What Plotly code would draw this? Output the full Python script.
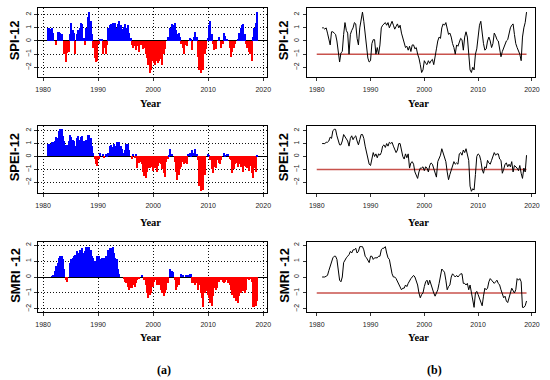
import plotly.graph_objects as go

# ---------------- data (quarterly values) ----------------
start_year = 1981.0
step = 0.25

spi12 = [
    1.0, 1.0, 0.9, 1.0,   0.6, 0.0, -0.3, 0.7,   0.7, 0.6, 0.5, 0.0,   -1.0, -1.6, -0.9, -0.8,
    0.5, 1.4, 0.8, 0.6,   -1.0, 0.5, 0.8, 1.0,   1.4, 1.3, 0.2, -0.3,   1.0, 1.8, 2.2, 1.5,
    0.5, -0.5, -1.3, -1.6,   -1.5, -0.2, 0.1, 0.1,   -1.0, -0.5, -1.0, -0.3,   1.0, 1.2, 1.3, 1.4,
    1.2, 1.4, 1.0, 1.3,   1.5, 1.2, 0.9, 1.1,   1.3, 1.0, 1.2, 0.6,   0.2, -0.3, -0.5, -0.4,
    -0.7, -0.4, -0.8, -0.3,   -0.3, -0.6, -0.5, -1.0,   -1.3, -1.8, -2.4, -2.2,   -1.5, -1.7, -1.8, -1.5,
    -1.7, -1.5, -1.4, -1.8,   -1.0, -0.6, 0.0, 0.3,   0.2, 1.0, 1.3, 1.2,   1.4, 0.8, 0.5, 0.6,
    0.3, -0.2, -0.5, -1.0,   -0.3, -0.4, 0.0, 0.2,   0.1, -0.7, 0.3, 0.7,   0.3, -1.2, -2.2, -2.4,
    -2.0, -2.2, -1.0, -0.6,   0.2, 1.2, 1.5, 0.5,   -0.2, -0.7, -0.6, 0.0,   0.3, 0.0, -0.5, -0.2,
    0.6, 0.4, 0.1, 0.0,   -0.5, -1.2, -0.8, -0.5,   -0.2, 0.0, 0.1, 0.6,   1.0, 1.2, 1.3, 0.5,
    -0.2, -0.5, -0.8, -1.0,   -1.5, 0.3, 1.0, 1.4,   2.2,
]

spei12 = [
    1.0, 1.0, 1.0, 1.1,   1.1, 1.2, 1.5, 1.4,   2.0, 2.1, 2.1, 1.6,   1.2, 0.9, 0.9, 1.2,
    1.7, 1.5, 1.3, 1.2,   0.8, 1.4, 1.6, 1.3,   1.5, 1.6, 1.2, 0.9,   1.3, 1.7, 1.7, 1.4,
    0.8, 0.3, -0.2, -0.6,   -0.7, -0.2, 0.3, 0.0,   0.2, -0.1, 0.2, 0.1,   0.3, 0.8, 0.9, 0.7,
    1.0, 0.8, 1.1, 1.0,   1.1, 0.8, 0.6, 0.3,   0.5, 1.0, 1.0, 0.5,   0.0, -0.2, 0.2, -0.1,
    0.2, -0.9, -0.5, -0.4,   -0.6, -1.2, -1.5, -1.7,   -1.2, -0.9, -0.9, -0.8,   -1.1, -0.8, -0.9, -1.2,
    -0.7, -0.5, -0.6, -1.0,   -1.3, -1.6, -0.4, -0.2,   0.1, 0.6, 0.2, 0.0,   -0.4, -1.2, -1.8, -1.4,
    -1.0, -0.8, -0.4, -0.6,   -0.5, -0.6, 0.2, 0.3,   0.1, 0.5, 0.3, 0.6,   0.2, -0.3, -2.3, -2.7,
    -2.5, -2.6, -1.4, 0.0,   0.2, 0.1, -0.3, -1.0,   -1.3, -0.8, -0.9, -0.3,   -0.5, -0.6, -0.3, 0.0,
    0.3, 0.1, 0.2, 0.2,   -0.2, -0.3, -1.3, -1.0,   -0.6, -0.5, -0.8, -0.6,   -0.8, -0.4, -1.2, -0.7,
    -0.8, -0.9, -1.1, -0.7,   -1.3, -1.7, -0.9, -1.2,   0.1,
]

smri12 = [
    0.0, 0.0, 0.0, 0.05,   0.1, 0.4, 0.7, 0.9,   1.2, 1.3, 1.3, 1.1,   0.5, -0.2, -0.3, 0.0,
    0.9, 1.1, 1.2, 1.3,   1.4, 1.6, 1.5, 1.7,   1.7, 1.8, 1.5, 1.6,   1.9, 1.9, 1.9, 1.7,
    1.3, 1.2, 1.0, 0.9,   1.3, 1.3, 1.1, 1.2,   1.2, 1.2, 1.3, 1.3,   1.7, 1.8, 1.8, 1.9,
    1.5, 1.2, 1.1, 0.5,   0.2, 0.0, 0.0, -0.1,   -0.3, -0.4, -0.6, -0.8,   -0.7, -0.7, -0.5, -0.6,
    -0.4, -0.2, -0.1, 0.0,   0.1, 0.0, -0.2, -0.5,   -1.0, -1.3, -1.1, -1.0,   -0.6, -0.3, -0.2, -0.5,
    -0.2, -0.5, -0.8, -1.0,   -1.2, -1.0, -0.8, -0.4,   0.0, 0.5, 0.4, 0.3,   -0.2, -0.8, -0.6, -0.5,
    0.0, 0.2, 0.1, 0.0,   0.1, 0.0, 0.1, 0.2,   0.2, -0.4, -0.4, -0.5,   -0.4, -0.8, -0.5, -1.0,
    -1.3, -1.9, -1.0, -0.9,   -1.1, -1.3, -1.6, -1.8,   -1.2, -0.7, -0.8, -0.7,   -0.3, -0.1, -0.2, -0.3,
    -0.4, -0.3, -0.2, -0.4,   -0.5, -0.8, -1.1, -1.3,   -1.2, -1.5, -1.6, -1.2,   -1.0, -0.7, -0.9, -1.0,
    -0.8, -0.1, -0.2, -0.1,   -0.3, -1.9, -1.9, -1.8,   -1.5,
]

index_names = ["SPI-12", "SPEI-12", "SMRI -12"]
year_ticks = [1980, 1990, 2000, 2010, 2020]
index_ticks = [-2, -1, 0, 1, 2]
threshold_value = -1
threshold_years = [1980, 2019]
panel_labels = ["(a)", "(b)"]

# ---------------- layout helpers ----------------
W, H = 550, 380
def fx(p):
    return p / W
def fy(p):
    return 1 - p / H

row_px = [(8, 77), (126, 193), (242, 312)]
left_px = (36, 268)
right_px = (308, 540)
y_ranges = [[-2.74, 2.51], [-2.83, 2.36], [-2.19, 2.19]]
left_xrange = [1979.16, 2020.7]
right_xrange = [1978.1, 2020.6]

POS = "#0000ff"
NEG = "#ff0000"
LINE_RED = "#c8524c"
TICKFONT = dict(family="Liberation Sans, Arial, sans-serif", size=7, color="#222222")

series = [spi12, spei12, smri12]

fig = go.Figure()
layout = {}
annotations = []

for r, vals in enumerate(series):
    years = [start_year + step * i for i in range(len(vals))]
    colors = [POS if v >= 0 else NEG for v in vals]
    li = 2 * r + 1
    ri = 2 * r + 2
    lx, ly = f"x{li}", f"y{li}"
    rx, ry = f"x{ri}", f"y{ri}"

    fig.add_trace(go.Bar(x=years, y=vals, marker=dict(color=colors, line=dict(width=0)),
                         width=step, xaxis=lx, yaxis=ly, showlegend=False, hoverinfo="x+y"))
    fig.add_trace(go.Scatter(x=threshold_years, y=[threshold_value] * 2, mode="lines",
                             line=dict(color=LINE_RED, width=1.5), xaxis=rx, yaxis=ry,
                             showlegend=False, hoverinfo="skip"))
    fig.add_trace(go.Scatter(x=years, y=vals, mode="lines", line=dict(color="black", width=1),
                             xaxis=rx, yaxis=ry, showlegend=False))

    top, bot = row_px[r]
    ydom = [fy(bot), fy(top)]
    for idx, cols, xr, is_left in [(li, left_px, left_xrange, True), (ri, right_px, right_xrange, False)]:
        xkey = "xaxis" if idx == 1 else f"xaxis{idx}"
        ykey = "yaxis" if idx == 1 else f"yaxis{idx}"
        common = dict(showline=True, mirror=True, linecolor="black", linewidth=1,
                      ticks="outside", ticklen=3, tickcolor="#333333", tickwidth=1,
                      tickfont=TICKFONT)
        grid = dict(showgrid=is_left, gridcolor="#111111", griddash="1px,2px", gridwidth=1)
        layout[xkey] = dict(domain=[fx(cols[0]), fx(cols[1])], anchor=f"y{idx}", range=xr,
                            tickvals=year_ticks, zeroline=False,
                            ticklabelstandoff=3, **grid, **common)
        layout[ykey] = dict(domain=ydom, anchor=f"x{idx}", range=y_ranges[r],
                            tickvals=index_ticks, tickangle=-90,
                            zeroline=is_left, zerolinecolor="black", zerolinewidth=1,
                            ticklabelstandoff=1, **grid, **common)
        cx = (cols[0] + cols[1]) / 2
        year_y = [103, 222, 337][r]
        annotations.append(dict(text="<b>Year</b>", x=fx(cx - 2), y=fy(year_y), xref="paper", yref="paper",
                                showarrow=False, xanchor="center", yanchor="middle",
                                font=dict(family="Liberation Serif, Times New Roman, serif", size=10.5, color="black")))
        tx = 12 if is_left else 285
        annotations.append(dict(text=f"<b>{index_names[r]}</b>", x=fx(tx), y=fy((top + bot) / 2 - 2),
                                xref="paper", yref="paper", showarrow=False, textangle=-90,
                                xanchor="center", yanchor="middle",
                                font=dict(family="Liberation Sans, Arial, sans-serif", size=13, color="black")))

for lab, cx in zip(panel_labels, [163, 438]):
    annotations.append(dict(text=f"<b>{lab}</b>", x=fx(cx), y=fy(370), xref="paper", yref="paper",
                            showarrow=False, xanchor="center", yanchor="middle",
                            font=dict(family="Liberation Serif, Times New Roman, serif", size=12, color="black")))

fig.update_layout(width=W, height=H, margin=dict(l=0, r=0, t=0, b=0),
                  paper_bgcolor="white", plot_bgcolor="white", bargap=0,
                  annotations=annotations, **layout)

fig.write_html("out.html", config={"displayModeBar": False},
               post_script="document.body.style.margin='0';document.body.style.padding='0';")
